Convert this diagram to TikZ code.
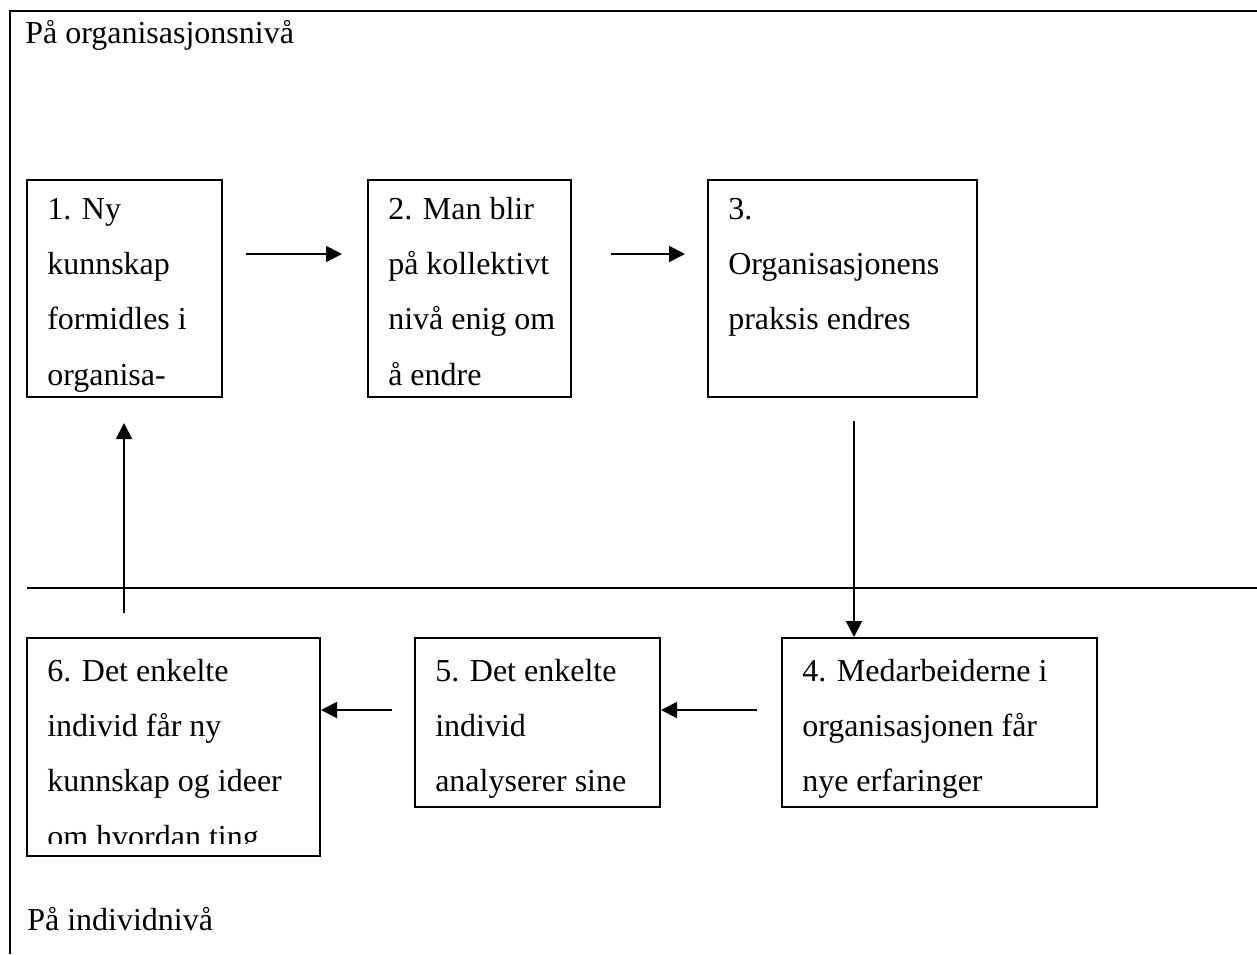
\documentclass[tikz,border=0pt]{standalone}
\usepackage{fontspec}
\setmainfont{Liberation Serif}
\usetikzlibrary{arrows.meta,calc,fit}

% text of a step, set from its first baseline and cut off near the box floor
\newcommand\steptext[4]{%
  \begin{scope}
    \clip (#1.north west) rectangle ($(#1.south east)+(0,-#2)$);
    \node[label] (#1t) at ($(#1.north west)+(21,#3)$) {\parbox[t]{500pt}{#4}};
  \end{scope}}

\begin{document}
\begin{tikzpicture}[x=0.75pt,y=-0.75pt,
  rule/.style={line width=1.5pt},
  stepbox/.style={draw,line width=1.5pt,inner sep=0pt},
  label/.style={anchor=base west,inner sep=0pt,font=\fontsize{24pt}{41.5pt}\selectfont},
  flow/.style={line width=1.4pt,-{Triangle[length=12pt,width=12pt]}}]
\useasboundingbox (0,0) rectangle (1257,954);

% frame, open at the right and bottom, and the level divider
\draw[rule] (10,954) -- (10,11) -- (1257,11);
\draw[rule] (27,588) -- (1257,588);

\node[label] (org) at (25,43) {På organisasjonsnivå};
\node[label] (ind) at (27,930) {På individnivå};

% organisational level
\node[stepbox, fit={(27,180) (222,397)}]  (b1) {};
\node[stepbox, fit={(368,180) (571,397)}] (b2) {};
\node[stepbox, fit={(708,180) (977,397)}] (b3) {};
% individual level
\node[stepbox, fit={(782,638) (1097,807)}] (b4) {};
\node[stepbox, fit={(415,638) (660,807)}]  (b5) {};
\node[stepbox, fit={(27,638) (320,856)}]   (b6) {};

\steptext{b1}{6}{40}{1. Ny\\kunnskap\\formidles i\\organisa-}
\steptext{b2}{6}{40}{2. Man blir\\på kollektivt\\nivå enig om\\å endre}
\steptext{b3}{6}{40}{3.\\Organisasjonens\\praksis endres}
\steptext{b4}{6}{44}{4. Medarbeiderne i\\organisasjonen får\\nye erfaringer}
\steptext{b5}{6}{44}{5. Det enkelte\\individ\\analyserer sine}
\steptext{b6}{14}{44}{6. Det enkelte\\individ får ny\\kunnskap og ideer\\om hvordan ting}

% cycle
\draw[flow] ($(b1.north east)+(23,75)$) -- ($(b2.north west)+(-25,75)$);
\draw[flow] ($(b2.north east)+(39,75)$) -- ($(b3.north west)+(-22,75)$);
\coordinate (c34) at ($(b3.south west)+(147,23)$);
\draw[flow] (c34) -- (c34 |- b4.north);
\draw[flow] ($(b4.north west)+(-24,73)$) -- ($(b5.north east)+(0,73)$);
\draw[flow] ($(b5.north west)+(-22,73)$) -- ($(b6.north east)+(0,73)$);
\coordinate (c61) at ($(b6.north west)+(98,-24)$);
\draw[flow] (c61) -- ($(c61 |- b1.south)+(0,25)$);
\end{tikzpicture}
\end{document}
